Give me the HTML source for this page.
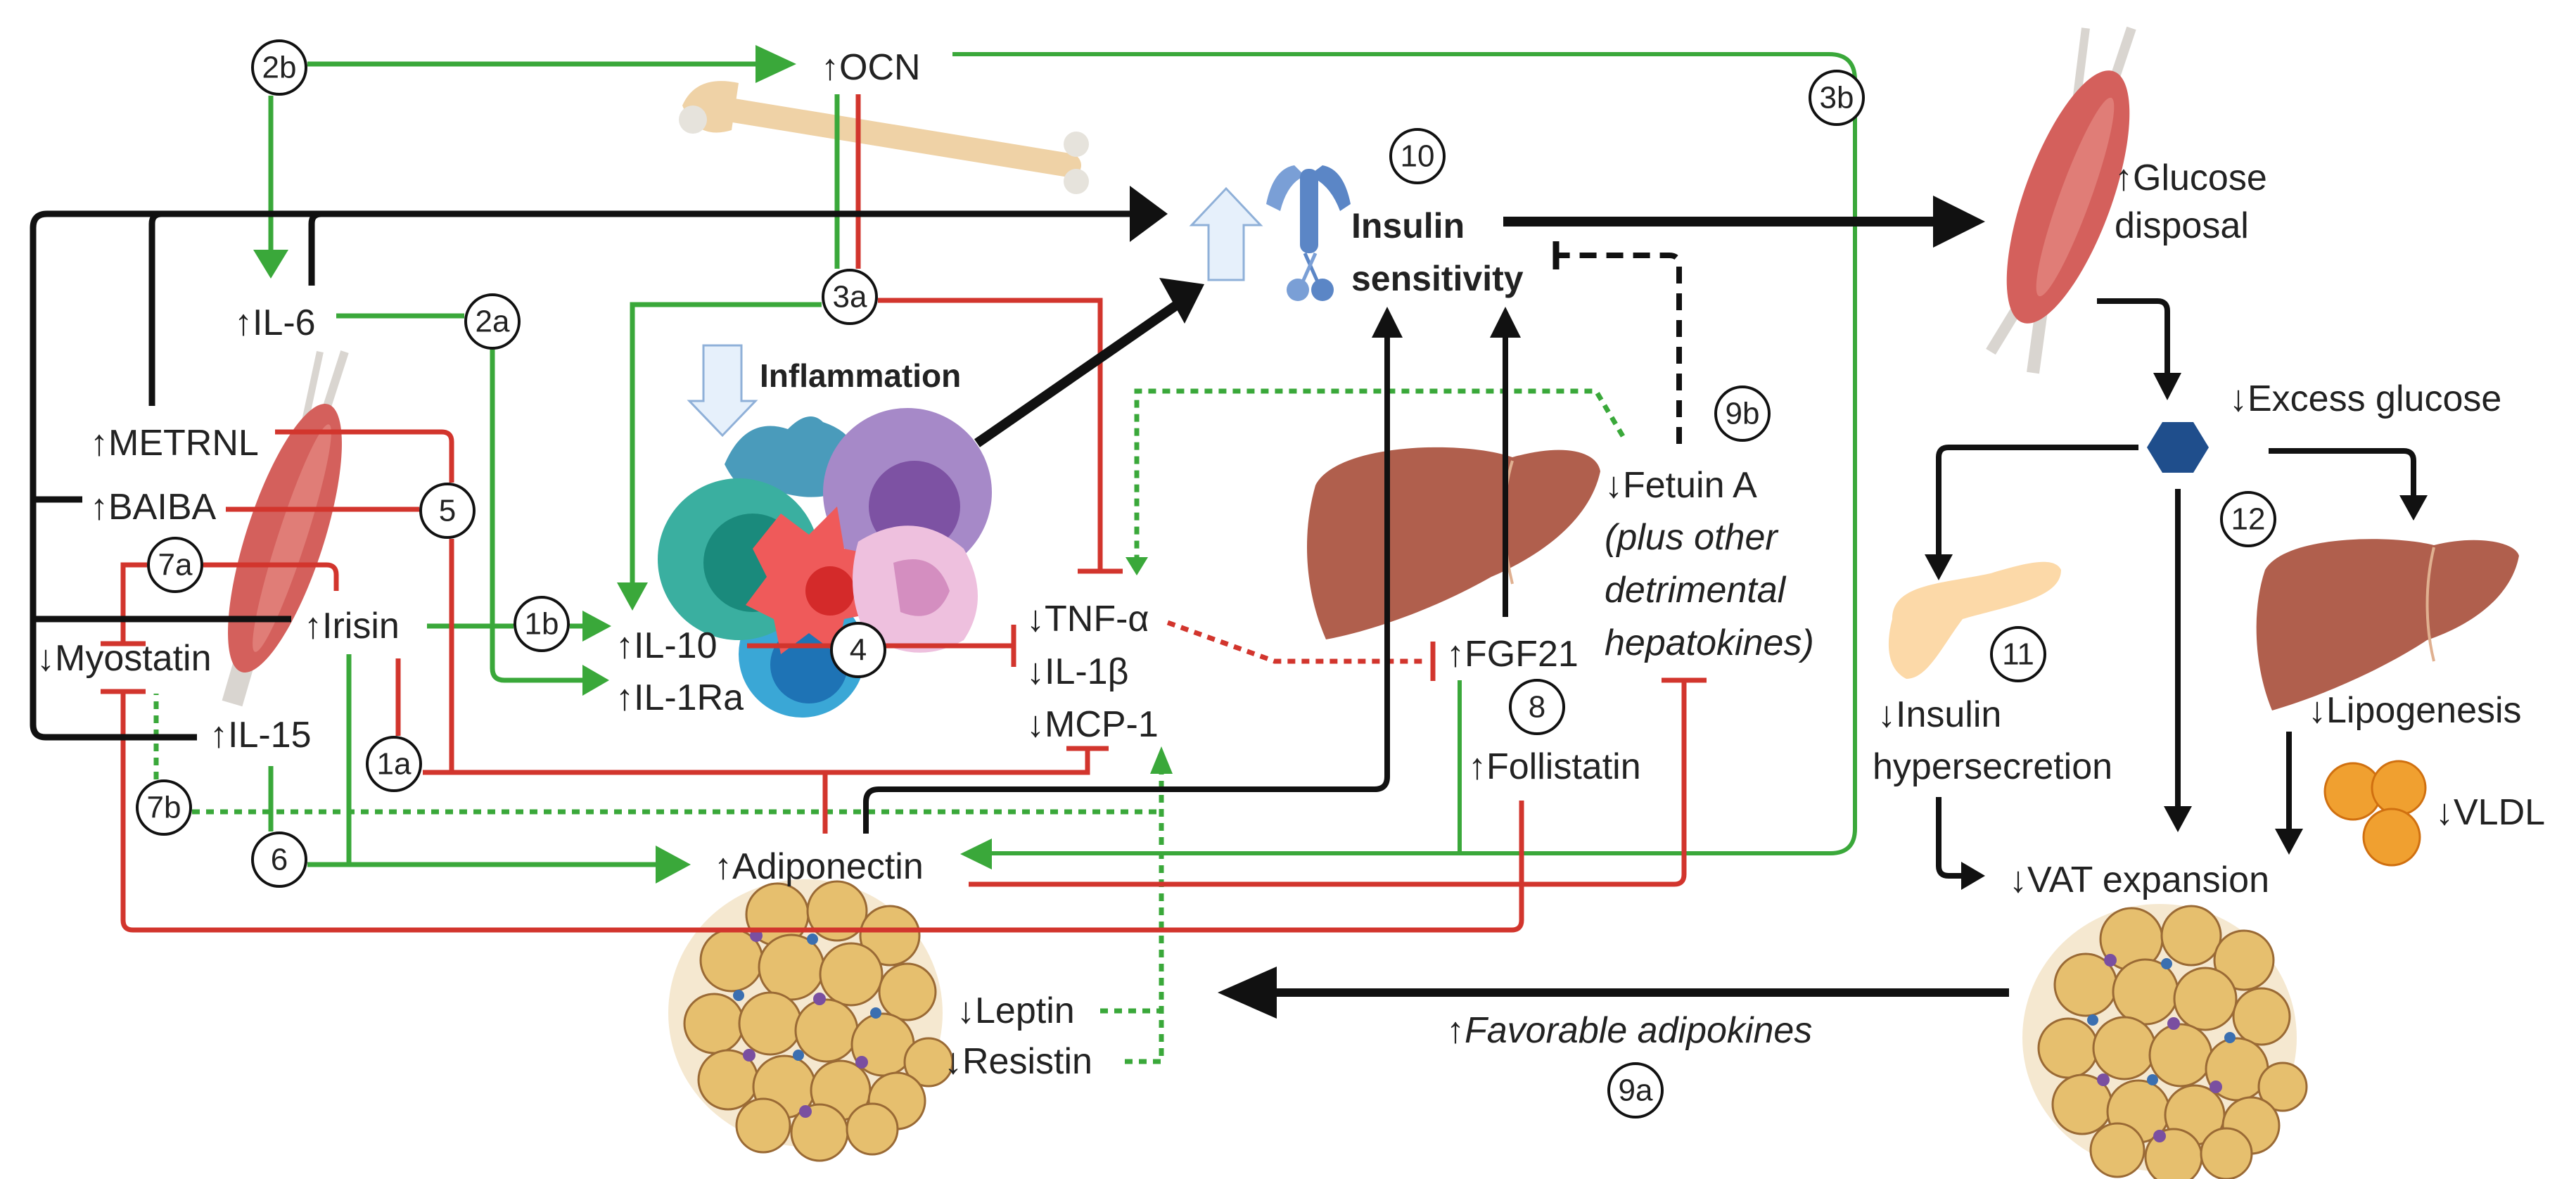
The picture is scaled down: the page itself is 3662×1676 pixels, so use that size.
<!DOCTYPE html>
<html><head><meta charset="utf-8"><style>
html,body{margin:0;padding:0;background:#fff;}
svg{display:block;}
text{font-family:"Liberation Sans",sans-serif;font-size:52px;fill:#222;dominant-baseline:central;}
.c{font-size:44px;text-anchor:middle;}
.b{font-weight:bold;}
.i{font-style:italic;}
</style></head><body>
<svg width="3662" height="1676" viewBox="0 0 3662 1676" xmlns="http://www.w3.org/2000/svg">
<defs>
<g id="fat">
<ellipse cx="190" cy="190" rx="195" ry="190" fill="#f2e2c4" opacity="0.8"/>
<g fill="#e6bf6e" stroke="#9a6a35" stroke-width="3">
<circle cx="150" cy="50" r="44"/><circle cx="235" cy="45" r="42"/><circle cx="310" cy="80" r="42"/>
<circle cx="85" cy="115" r="44"/><circle cx="170" cy="125" r="46"/><circle cx="255" cy="135" r="44"/><circle cx="335" cy="160" r="40"/>
<circle cx="60" cy="205" r="42"/><circle cx="140" cy="205" r="44"/><circle cx="220" cy="215" r="44"/><circle cx="300" cy="235" r="44"/><circle cx="365" cy="260" r="34"/>
<circle cx="80" cy="285" r="42"/><circle cx="160" cy="295" r="44"/><circle cx="240" cy="300" r="42"/><circle cx="320" cy="315" r="40"/>
<circle cx="130" cy="350" r="38"/><circle cx="210" cy="360" r="40"/><circle cx="285" cy="355" r="36"/>
</g>
<g fill="#7a4fa0"><circle cx="120" cy="80" r="9"/><circle cx="210" cy="170" r="9"/><circle cx="110" cy="250" r="9"/><circle cx="270" cy="260" r="9"/><circle cx="190" cy="330" r="9"/></g>
<g fill="#3b6fb0"><circle cx="200" cy="85" r="8"/><circle cx="290" cy="190" r="8"/><circle cx="180" cy="250" r="8"/><circle cx="95" cy="165" r="8"/></g>
</g>
</defs>

<!-- bone -->
<g>
<line x1="1000" y1="150" x2="1520" y2="235" stroke="#efd2a6" stroke-width="34" stroke-linecap="round"/>
<path d="M970,150 Q990,105 1050,118 L1040,185 Q990,200 970,150Z" fill="#efd2a6"/>
<circle cx="985" cy="170" r="20" fill="#e6e3dc"/>
<circle cx="1530" cy="205" r="18" fill="#e6e3dc"/><circle cx="1530" cy="258" r="18" fill="#e6e3dc"/>
</g>
<!-- left muscle -->
<g>
<line x1="490" y1="500" x2="445" y2="640" stroke="#d9d5d0" stroke-width="12"/>
<line x1="455" y1="500" x2="425" y2="640" stroke="#d9d5d0" stroke-width="10"/>
<line x1="330" y1="1000" x2="365" y2="880" stroke="#d9d5d0" stroke-width="30"/>
<ellipse cx="405" cy="765" rx="55" ry="200" fill="#d4605c" transform="rotate(18 405 765)"/>
<ellipse cx="415" cy="765" rx="20" ry="170" fill="#e07d77" transform="rotate(18 415 765)"/>
</g>
<!-- cells -->
<g>
<path d="M1030,660 Q1060,590 1120,610 Q1150,580 1170,600 Q1230,620 1220,680 Q1180,720 1110,700 Q1060,720 1030,660Z" fill="#4a9bbb"/>
<circle cx="1140" cy="930" r="90" fill="#3aa7d6"/>
<circle cx="1150" cy="945" r="55" fill="#1e73b5"/>
<circle cx="1290" cy="700" r="120" fill="#a689c8"/>
<circle cx="1300" cy="720" r="65" fill="#7d52a3"/>
<circle cx="1050" cy="795" r="115" fill="#3aafa0"/>
<circle cx="1070" cy="800" r="70" fill="#1a8a7c"/>
<path d="M1110,730 L1150,760 L1190,720 L1200,780 L1250,790 L1220,830 L1250,870 L1200,880 L1190,930 L1150,900 L1110,930 L1100,880 L1060,860 L1090,820 L1070,780 Z" fill="#ef5a5a"/>
<circle cx="1180" cy="840" r="35" fill="#d42a2a"/>
<path d="M1220,770 Q1300,720 1370,780 Q1410,850 1370,910 Q1300,950 1230,900 Q1200,840 1220,770Z" fill="#eec0de"/>
<path d="M1270,800 Q1330,780 1350,840 Q1330,890 1280,870 Z" fill="#d48ec0"/>
</g>
<path d="M1000,491 H1054 V570 H1074 L1027,619 L980,570 H1000 Z" fill="#e6f0fb" stroke="#8fb0d8" stroke-width="3"/>
<path d="M1718,398 V320 H1694 L1743,268 L1792,320 H1768 V398 Z" fill="#e6f0fb" stroke="#8fb0d8" stroke-width="3"/>
<g fill="#5b86c6">
<path d="M1800,290 Q1810,240 1840,235 L1855,250 Q1830,260 1820,300 Z" fill="#7a9fd6"/>
<path d="M1920,290 Q1910,240 1880,235 L1860,250 Q1890,260 1905,300 Z"/>
<rect x="1848" y="240" width="26" height="120" rx="12"/>
<line x1="1855" y1="360" x2="1875" y2="405" stroke="#5b86c6" stroke-width="5"/>
<line x1="1870" y1="360" x2="1850" y2="405" stroke="#7a9fd6" stroke-width="5"/>
<circle cx="1845" cy="412" r="16" fill="#7a9fd6"/><circle cx="1880" cy="412" r="16"/>
</g>
<path d="M1870,690 C1900,630 2080,625 2150,650 C2220,630 2270,640 2275,670 C2260,740 2190,790 2120,820 C2050,860 1960,895 1885,909 C1855,840 1850,760 1870,690Z" fill="#b05f4d"/>
<path d="M2150,655 C2130,720 2140,790 2150,830" stroke="#e0b090" stroke-width="4" fill="none"/>
<g>
<line x1="2965" y1="40" x2="2950" y2="160" stroke="#d9d5d0" stroke-width="12"/>
<line x1="3030" y1="40" x2="2990" y2="160" stroke="#d9d5d0" stroke-width="14"/>
<line x1="2885" y1="410" x2="2830" y2="500" stroke="#d9d5d0" stroke-width="16"/>
<line x1="2905" y1="420" x2="2890" y2="530" stroke="#d9d5d0" stroke-width="18"/>
<ellipse cx="2940" cy="280" rx="62" ry="190" fill="#d4605c" transform="rotate(20 2940 280)"/>
<ellipse cx="2950" cy="280" rx="22" ry="150" fill="#e07d77" transform="rotate(20 2950 280)"/>
</g>
<polygon points="3074,600 3118,600 3140,636 3118,672 3074,672 3052,636" fill="#1f4e8c"/>
<path d="M2690,880 C2690,830 2760,830 2830,815 C2880,800 2920,790 2930,810 C2930,850 2860,860 2790,880 C2760,920 2740,965 2710,965 C2680,950 2682,910 2690,880Z" fill="#fcd9a8"/>
<path d="M3220,810 C3250,760 3400,760 3460,775 C3520,760 3575,770 3581,790 C3570,850 3510,890 3450,910 C3390,950 3300,990 3230,1010 C3205,950 3200,870 3220,810Z" fill="#b05f4d"/>
<path d="M3460,778 C3445,840 3450,900 3460,940" stroke="#e0b090" stroke-width="4" fill="none"/>
<g fill="#f0a030" stroke="#d07010" stroke-width="3">
<circle cx="3345" cy="1125" r="40"/><circle cx="3410" cy="1120" r="38"/><circle cx="3400" cy="1190" r="40"/>
</g>
<use href="#fat" x="955" y="1250"/>
<use href="#fat" x="2880" y="1285"/>

<g stroke="#3aa83a" stroke-width="7" fill="none">
<path d="M437,91 H1080"/>
<path d="M385,136 V358"/>
<path d="M478,449 H660"/>
<path d="M700,497 V950 Q700,967 717,967 H830"/>
<path d="M1190,134 V382"/>
<path d="M1168,433 H899 V830"/>
<path d="M1354,77 H2600 Q2637,77 2637,114 V1178 Q2637,1213 2602,1213 H1400" stroke-width="6"/>
<path d="M607,890 H730"/><path d="M810,890 H832"/>
<path d="M496,930 V1229"/>
<path d="M385,1089 V1182"/>
<path d="M437,1229 H935"/>
<path d="M2075,967 V1213" stroke-width="6"/>
</g>
<g fill="#3aa83a">
<polygon points="1074,64 1132,91 1074,118"/>
<polygon points="360,355 385,396 410,355"/>
<polygon points="828,945 866,967 828,989"/>
<polygon points="877,828 899,868 921,828"/>
<polygon points="828,868 869,890 828,912"/>
<polygon points="932,1202 982,1229 932,1256"/>
<polygon points="1410,1192 1365,1214 1410,1236"/>
</g>
<g stroke="#3aa83a" stroke-width="7" fill="none" stroke-dasharray="11 9">
<path d="M222,1108 V986"/>
<path d="M273,1154 H1651"/>
<path d="M1564,1437 H1651"/>
<path d="M1599,1509 H1651 V1100"/>
<path d="M2307,620 L2269,556 H1616 V795"/>
</g>
<g fill="#3aa83a">
<polygon points="1635,1100 1651,1061 1667,1100"/>
<polygon points="1600,792 1616,818 1632,792"/>
</g>

<g stroke="#d2352d" stroke-width="7" fill="none">
<path d="M1220,134 V382"/>
<path d="M1248,427 H1564 V812"/><path d="M1532,812 H1596"/>
<path d="M391,614 H628 Q642,614 642,628 V686"/>
<path d="M642,766 V1098 H1546 V1064"/><path d="M1516,1064 H1576"/>
<path d="M601,1098 H642"/>
<path d="M321,724 H596"/>
<path d="M1173,1185 V1098"/>
<path d="M209,803 H175 V915"/><path d="M143,915 H207"/>
<path d="M289,803 H464 Q478,803 478,817 V840"/>
<path d="M566,936 V1046"/>
<path d="M143,983 H207"/>
<path d="M175,983 V1308 Q175,1322 189,1322 H2149 Q2163,1322 2163,1308 V1138"/>
<path d="M1377,1257 H2380 Q2394,1257 2394,1243 V967"/><path d="M2362,967 H2426"/>
<path d="M1062,918 H1441"/><path d="M1441,888 V948"/>
<path d="M2037,912 V968"/>
</g>
<path d="M1660,885 L1812,940 H2030" stroke="#d2352d" stroke-width="7" fill="none" stroke-dasharray="11 9"/>

<g stroke="#111" stroke-width="9" fill="none">
<path d="M47,1030 V324 Q47,304 67,304 H1612"/>
<path d="M216,577 V318 Q216,304 230,304"/>
<path d="M443,406 V318 Q443,304 457,304"/>
<path d="M47,710 H117"/>
<path d="M47,880 H414"/>
<path d="M47,1030 Q47,1048 65,1048 H280"/>
<path d="M1389,630 L1675,432" stroke-width="14"/>
<path d="M1231,1185 V1140 Q1231,1122 1249,1122 H1954 Q1972,1122 1972,1104 V478" stroke-width="8"/>
<path d="M2140,877 V478" stroke-width="8"/>
<path d="M2137,315 H2755" stroke-width="14"/>
<path d="M2981,428 H3067 Q3081,428 3081,442 V532" stroke-width="8"/>
<path d="M3040,636 H2770 Q2756,636 2756,650 V790" stroke-width="8"/>
<path d="M3225,641 H3417 Q3431,641 3431,655 V706" stroke-width="8"/>
<path d="M3096,695 V1150" stroke-width="8"/>
<path d="M2756,1133 V1231 Q2756,1245 2770,1245 H2792" stroke-width="8"/>
<path d="M3254,1040 V1180" stroke-width="8"/>
<path d="M2856,1411 H1800" stroke-width="12"/>
<path d="M2387,631 V377 Q2387,363 2373,363 H2215" stroke-width="8" stroke-dasharray="24 14"/>
<path d="M2212,343 V383" stroke-width="9"/>
</g>
<g fill="#111">
<polygon points="1606,264 1660,304 1606,344"/>
<polygon points="1648,395 1712,404 1684,460"/>
<polygon points="1950,480 1972,436 1994,480"/>
<polygon points="2118,480 2140,436 2162,480"/>
<polygon points="2748,278 2822,315 2748,352"/>
<polygon points="3061,530 3081,569 3101,530"/>
<polygon points="2736,788 2756,825 2776,788"/>
<polygon points="3411,704 3431,740 3451,704"/>
<polygon points="3076,1146 3096,1183 3116,1146"/>
<polygon points="2788,1225 2822,1245 2788,1265"/>
<polygon points="3234,1178 3254,1215 3274,1178"/>
<polygon points="1815,1374 1731,1411 1815,1448"/>
</g>

<g fill="#fff" stroke="#111" stroke-width="4">
<circle cx="397" cy="96" r="38"/><circle cx="700" cy="457" r="38"/><circle cx="1208" cy="422" r="38"/>
<circle cx="636" cy="726" r="38"/><circle cx="249" cy="803" r="38"/><circle cx="770" cy="887" r="38"/>
<circle cx="1220" cy="924" r="38"/><circle cx="560" cy="1086" r="38"/><circle cx="233" cy="1148" r="38"/>
<circle cx="397" cy="1222" r="38"/><circle cx="2015" cy="222" r="38"/><circle cx="2611" cy="139" r="38"/>
<circle cx="2477" cy="588" r="38"/><circle cx="2185" cy="1005" r="38"/><circle cx="2869" cy="930" r="38"/>
<circle cx="3196" cy="738" r="38"/><circle cx="2325" cy="1550" r="38"/>
</g>
<g>
<text class="c" x="397" y="96">2b</text><text class="c" x="700" y="457">2a</text><text class="c" x="1208" y="422">3a</text>
<text class="c" x="636" y="726">5</text><text class="c" x="249" y="803">7a</text><text class="c" x="770" y="887">1b</text>
<text class="c" x="1220" y="924">4</text><text class="c" x="560" y="1086">1a</text><text class="c" x="233" y="1148">7b</text>
<text class="c" x="397" y="1222">6</text><text class="c" x="2015" y="222">10</text><text class="c" x="2611" y="139">3b</text>
<text class="c" x="2477" y="588">9b</text><text class="c" x="2185" y="1005">8</text><text class="c" x="2869" y="930">11</text>
<text class="c" x="3196" y="738">12</text><text class="c" x="2325" y="1550">9a</text>
</g>

<text x="1167" y="96">↑OCN</text>
<text x="333" y="459">↑IL-6</text>
<text x="128" y="630">↑METRNL</text>
<text x="128" y="721">↑BAIBA</text>
<text x="432" y="890">↑Irisin</text>
<text x="52" y="936">↓Myostatin</text>
<text x="298" y="1045">↑IL-15</text>
<text x="875" y="918">↑IL-10</text>
<text x="875" y="992">↑IL-1Ra</text>
<text x="1459" y="880">↓TNF-α</text>
<text x="1459" y="955">↓IL-1β</text>
<text x="1459" y="1030">↓MCP-1</text>
<text x="1015" y="1232">↑Adiponectin</text>
<text x="1360" y="1437">↓Leptin</text>
<text x="1342" y="1509">↓Resistin</text>
<text x="1080" y="534" class="b" style="font-size:46px">Inflammation</text>
<text x="1921" y="321" class="b" style="font-size:50px">Insulin</text>
<text x="1921" y="396" class="b" style="font-size:50px">sensitivity</text>
<text x="2281" y="690">↓Fetuin A</text>
<text x="2281" y="764" class="i">(plus other</text>
<text x="2281" y="839" class="i">detrimental</text>
<text x="2281" y="914" class="i">hepatokines)</text>
<text x="2056" y="930">↑FGF21</text>
<text x="2087" y="1090">↑Follistatin</text>
<text x="3006" y="253">↑Glucose</text>
<text x="3006" y="321">disposal</text>
<text x="3169" y="567">↓Excess glucose</text>
<text x="2669" y="1016">↓Insulin</text>
<text x="2662" y="1090">hypersecretion</text>
<text x="3281" y="1010">↓Lipogenesis</text>
<text x="3462" y="1155">↓VLDL</text>
<text x="2856" y="1251">↓VAT expansion</text>
<text x="2056" y="1465" class="i">↑Favorable adipokines</text>
</svg>
</body></html>
